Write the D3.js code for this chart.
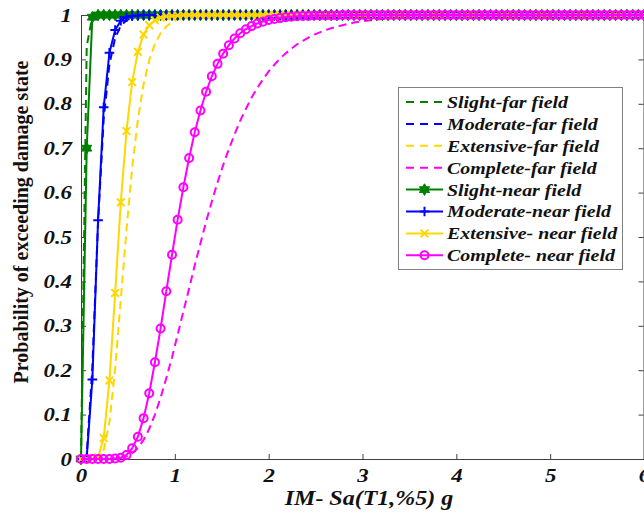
<!DOCTYPE html>
<html><head><meta charset="utf-8">
<script src="https://cdn.jsdelivr.net/npm/d3@7"></script>
<style>body{margin:0;background:#fff}svg{display:block}</style>
</head><body>
<svg id="c" width="644" height="521"></svg>
<script>
// ---- data ----
const IM = [
0,0.061,0.121,0.182,0.242,0.303,0.364,0.424,0.485,0.545,
0.606,0.667,0.727,0.788,0.848,0.909,0.970,1.030,1.091,1.152,
1.212,1.273,1.333,1.394,1.455,1.515,1.576,1.636,1.697,1.758,
1.818,1.879,1.939,2.000,2.061,2.121,2.182,2.242,2.303,2.364,
2.424,2.485,2.545,2.606,2.667,2.727,2.788,2.848,2.909,2.970,
3.030,3.091,3.152,3.212,3.273,3.333,3.394,3.455,3.515,3.576,
3.636,3.697,3.758,3.818,3.879,3.939,4.000,4.061,4.121,4.182,
4.242,4.303,4.364,4.424,4.485,4.545,4.606,4.667,4.727,4.788,
4.848,4.909,4.970,5.030,5.091,5.152,5.212,5.273,5.333,5.394,
5.455,5.515,5.576,5.636,5.697,5.758,5.818,5.879,5.939,6.000];

const slightFar = [
0,0.93,0.997,1,1,1,1,1,1,1,
1,1,1,1,1,1,1,1,1,1, 1,1,1,1,1,1,1,1,1,1, 1,1,1,1,1,1,1,1,1,1,
1,1,1,1,1,1,1,1,1,1, 1,1,1,1,1,1,1,1,1,1, 1,1,1,1,1,1,1,1,1,1,
1,1,1,1,1,1,1,1,1,1, 1,1,1,1,1,1,1,1,1,1, 1,1,1,1,1,1,1,1,1,1];

const moderateFar = [
0,0.009,0.207,0.534,0.766,0.889,0.948,0.976,0.988,0.994,
0.997,0.998,0.999,1,1,1,1,1,1,1,
1,1,1,1,1,1,1,1,1,1, 1,1,1,1,1,1,1,1,1,1, 1,1,1,1,1,1,1,1,1,1,
1,1,1,1,1,1,1,1,1,1, 1,1,1,1,1,1,1,1,1,1, 1,1,1,1,1,1,1,1,1,1,
1,1,1,1,1,1,1,1,1,1, 1,1,1,1,1,1,1,1,1,1];

const extensiveFar = [
0,0,0,0.002,0.020,0.083,0.203,0.359,0.517,0.655,
0.764,0.844,0.898,0.935,0.959,0.974,0.984,0.990,0.994,0.996,
0.998,0.998,0.999,1,1,1,1,1,1,1,
1,1,1,1,1,1,1,1,1,1, 1,1,1,1,1,1,1,1,1,1, 1,1,1,1,1,1,1,1,1,1,
1,1,1,1,1,1,1,1,1,1, 1,1,1,1,1,1,1,1,1,1, 1,1,1,1,1,1,1,1,1,1,
1,1,1,1,1,1,1,1,1,1];

const completeFar = [
0,0,0,0,0,0,0.001,0.002,0.006,0.013,
0.025,0.043,0.068,0.100,0.138,0.182,0.229,0.280,0.332,0.384,
0.436,0.486,0.534,0.580,0.623,0.662,0.698,0.731,0.762,0.789,
0.814,0.836,0.855,0.873,0.888,0.902,0.914,0.924,0.934,0.942,
0.949,0.956,0.961,0.966,0.970,0.974,0.977,0.980,0.983,0.985,
0.987,0.988,0.990,0.991,0.992,0.993,0.994,0.995,0.995,0.996,
0.996,0.997,0.997,0.998,0.998,0.998,0.998,0.998,0.998,0.998,
0.999,0.999,0.999,0.999,0.999,0.999,0.999,0.999,0.999,0.999,
0.999,0.999,0.999,0.999,0.999,1,1,1,1,1,
1,1,1,1,1,1,1,1,1,1];

const slightNear = [
0,0.70,0.995,1,1,1,1,1,1,1,
1,1,1,1,1,1,1,1,1,1, 1,1,1,1,1,1,1,1,1,1, 1,1,1,1,1,1,1,1,1,1,
1,1,1,1,1,1,1,1,1,1, 1,1,1,1,1,1,1,1,1,1, 1,1,1,1,1,1,1,1,1,1,
1,1,1,1,1,1,1,1,1,1, 1,1,1,1,1,1,1,1,1,1, 1,1,1,1,1,1,1,1,1,1];

const moderateNear = [
0,0.004,0.179,0.538,0.792,0.915,0.966,0.987,0.995,0.998,
0.999,1,1,1,1,1,1,1,1,1,
1,1,1,1,1,1,1,1,1,1, 1,1,1,1,1,1,1,1,1,1, 1,1,1,1,1,1,1,1,1,1,
1,1,1,1,1,1,1,1,1,1, 1,1,1,1,1,1,1,1,1,1, 1,1,1,1,1,1,1,1,1,1,
1,1,1,1,1,1,1,1,1,1, 1,1,1,1,1,1,1,1,1,1];

const extensiveNear = [
0,0,0,0.004,0.047,0.177,0.374,0.578,0.739,0.849,
0.917,0.956,0.977,0.988,0.994,0.997,0.998,0.999,1,1,
1,1,1,1,1,1,1,1,1,1, 1,1,1,1,1,1,1,1,1,1, 1,1,1,1,1,1,1,1,1,1,
1,1,1,1,1,1,1,1,1,1, 1,1,1,1,1,1,1,1,1,1, 1,1,1,1,1,1,1,1,1,1,
1,1,1,1,1,1,1,1,1,1, 1,1,1,1,1,1,1,1,1,1];

const completeNear = [
0,0,0,0,0,0,0.001,0.003,0.009,0.024,
0.050,0.092,0.148,0.218,0.294,0.378,0.460,0.539,0.612,0.678,
0.736,0.785,0.827,0.862,0.890,0.913,0.932,0.947,0.959,0.968,
0.975,0.981,0.985,0.989,0.991,0.993,0.995,0.996,0.997,0.998,
0.998,0.999,0.999,0.999,0.999,0.999,1,1,1,1,
1,1,1,1,1,1,1,1,1,1, 1,1,1,1,1,1,1,1,1,1, 1,1,1,1,1,1,1,1,1,1,
1,1,1,1,1,1,1,1,1,1, 1,1,1,1,1,1,1,1,1,1];

const xTicks = [0,1,2,3,4,5,6];
const yTicks = [0,0.1,0.2,0.3,0.4,0.5,0.6,0.7,0.8,0.9,1];
const xTitle = "IM- Sa(T1,%5) g";
const yTitle = "Probability of exceeding damage state";

const seriesNames = ["Slight-far field","Moderate-far field","Extensive-far field","Complete-far field",
  "Slight-near field","Moderate-near field","Extensive- near field","Complete- near field"];
const seriesValues = [slightFar, moderateFar, extensiveFar, completeFar,
  slightNear, moderateNear, extensiveNear, completeNear];
const seriesColors = ["#008000","#0000ff","#ffd700","#ff00ff","#008000","#0000ff","#ffd700","#ff00ff"];
const seriesDashed = [true,true,true,true,false,false,false,false];
const seriesMarkers = [null,null,null,null,"hexagram","plus","cross","circle"];

// ---- drawing ----
const svg = d3.select("#c");
const FONT = "'Liberation Serif','Times New Roman',serif";
const SX = 1.2; // horizontal stretch of the reference text
const x = d3.scaleLinear().domain([0,6]).range([81,644]);
const y = d3.scaleLinear().domain([0,1]).range([459,15]);
const axisColor = "#404040";

function markerPath(type){
  if(type==="plus") return "M-4.8,0H4.8M0,-4.8V4.8";
  if(type==="cross") return "M-3.8,-3.8L3.8,3.8M-3.8,3.8L3.8,-3.8";
  if(type==="hexagram"){
    const R=5.8, r=R/Math.sqrt(3); let p="";
    for(let i=0;i<12;i++){
      const a=-Math.PI/2+i*Math.PI/6, rr=i%2===0?R:r;
      p+=(i===0?"M":"L")+(rr*Math.cos(a)).toFixed(2)+","+(rr*Math.sin(a)).toFixed(2);
    }
    return p+"Z";
  }
  return null;
}
function drawMarker(g, type, color, cx, cy){
  if(type==="circle"){
    g.append("circle").attr("cx",cx).attr("cy",cy).attr("r",4)
      .attr("fill","none").attr("stroke",color).attr("stroke-width",2);
  } else {
    g.append("path").attr("d",markerPath(type)).attr("transform",`translate(${cx},${cy})`)
      .attr("fill", type==="hexagram"?color:"none").attr("stroke",color).attr("stroke-width",type==="hexagram"?1:2);
  }
}

// axes
const gx = svg.append("g").attr("transform","translate(0,459)")
  .call(d3.axisBottom(x).tickValues(xTicks).tickFormat(d3.format("d")).tickSize(-5).tickPadding(11));
const gxt = svg.append("g").attr("transform","translate(0,15)")
  .call(d3.axisTop(x).tickValues(xTicks).tickFormat("").tickSize(-5));
const gy = svg.append("g").attr("transform","translate(81,0)")
  .call(d3.axisLeft(y).tickValues(yTicks).tickFormat(d=>d===0||d===1?String(d):d.toFixed(1)).tickSize(-5).tickPadding(9));
const gyr = svg.append("g").attr("transform","translate(643.5,0)")
  .call(d3.axisRight(y).tickValues(yTicks).tickFormat("").tickSize(-5));
[gx,gxt,gy,gyr].forEach(g=>{
  g.selectAll("path.domain").attr("stroke",axisColor).attr("stroke-width",1);
  g.selectAll(".tick line").attr("stroke",axisColor).attr("stroke-width",1);
  g.selectAll(".tick text").attr("fill","#111").attr("font-family",FONT)
    .attr("font-size",19).attr("font-weight","bold").attr("font-style","italic");
});
gx.selectAll(".tick text").attr("dy",null).attr("y",null).attr("transform",`translate(0,23) scale(${SX},1)`);
gy.selectAll(".tick text").attr("x",-9/SX).attr("transform",`scale(${SX},1)`);

// series
const line = d3.line().x((d,i)=>x(IM[i])).y(d=>y(d));
seriesValues.forEach((vals,si)=>{
  const g = svg.append("g");
  g.append("path").attr("d",line(vals)).attr("fill","none")
    .attr("stroke",seriesColors[si]).attr("stroke-width",2)
    .attr("stroke-dasharray",seriesDashed[si]?"8,5":null);
  if(seriesMarkers[si]){
    vals.forEach((v,i)=>drawMarker(g, seriesMarkers[si], seriesColors[si], x(IM[i]), y(v)));
  }
});

// axis titles
svg.append("text").attr("transform",`translate(369,505) scale(${SX},1)`).attr("text-anchor","middle")
  .attr("font-family",FONT).attr("font-size",20).attr("font-weight","bold").attr("font-style","italic")
  .attr("fill","#111").text(xTitle);
svg.append("text").attr("transform","translate(28,222) rotate(-90)").attr("text-anchor","middle")
  .attr("font-family",FONT).attr("font-size",20).attr("font-weight","bold")
  .attr("fill","#111").text(yTitle);

// legend
const lg = svg.append("g");
lg.append("rect").attr("x",398.5).attr("y",87.5).attr("width",224).attr("height",182)
  .attr("fill","#fff").attr("stroke","#808080").attr("stroke-width",1);
seriesNames.forEach((name,si)=>{
  const yy = 102 + si*21.9;
  lg.append("line").attr("x1",406).attr("x2",443).attr("y1",yy).attr("y2",yy)
    .attr("stroke",seriesColors[si]).attr("stroke-width",2)
    .attr("stroke-dasharray",seriesDashed[si]?"8,6":null);
  if(seriesMarkers[si]) drawMarker(lg, seriesMarkers[si], seriesColors[si], 424.5, yy);
  lg.append("text").attr("transform",`translate(447,${yy}) scale(1.17,1)`).attr("dy","0.35em")
    .attr("font-family",FONT).attr("font-size",17).attr("font-weight","bold").attr("font-style","italic")
    .attr("fill","#111").text(name);
});
</script>
</body></html>
